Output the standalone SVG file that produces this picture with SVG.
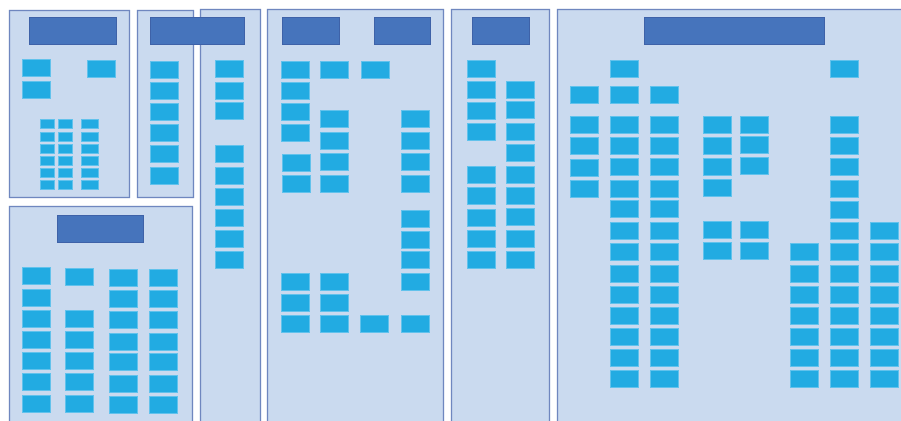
<svg xmlns="http://www.w3.org/2000/svg" xmlns:xlink="http://www.w3.org/1999/xlink" width="901" height="421" viewBox="0 0 901 421">
<style>
.panel{fill:#CADAEF;stroke:#6F87BF;stroke-width:1.3}
.hdr{fill:#4674BC;stroke:#3E62A8;stroke-width:1}
.b{fill:#22ABE2;stroke:#62C2EC;stroke-width:1}
</style>
<defs>
<rect id="bx" class="b" width="28" height="17"/>
<rect id="tn" class="b" width="14" height="9"/>
<rect id="tw" class="b" width="17" height="9"/>
</defs>
<rect width="901" height="421" fill="#FFFFFF"/>
<g id="panelA">
<rect class="panel" x="9.5" y="10.5" width="120" height="187"/>
<rect class="hdr" x="29.5" y="17.5" width="87" height="27"/>
<use href="#bx" x="22.5" y="59.5"/><use href="#bx" x="22.5" y="81.5"/><use href="#bx" x="87.5" y="60.5"/>
<use href="#tn" x="40.5" y="119.5"/><use href="#tn" x="58.5" y="119.5"/><use href="#tw" x="81.5" y="119.5"/>
<use href="#tn" x="40.5" y="132.5"/><use href="#tn" x="58.5" y="132.5"/><use href="#tw" x="81.5" y="132.5"/>
<use href="#tn" x="40.5" y="144.5"/><use href="#tn" x="58.5" y="144.5"/><use href="#tw" x="81.5" y="144.5"/>
<use href="#tn" x="40.5" y="156.5"/><use href="#tn" x="58.5" y="156.5"/><use href="#tw" x="81.5" y="156.5"/>
<use href="#tn" x="40.5" y="168.5"/><use href="#tn" x="58.5" y="168.5"/><use href="#tw" x="81.5" y="168.5"/>
<use href="#tn" x="40.5" y="180.5"/><use href="#tn" x="58.5" y="180.5"/><use href="#tw" x="81.5" y="180.5"/>
</g>
<g id="panelC">
<rect class="panel" x="200.5" y="9.5" width="60" height="420"/>
<use href="#bx" x="215.5" y="60.5"/><use href="#bx" x="215.5" y="82.5"/><use href="#bx" x="215.5" y="102.5"/>
<use href="#bx" x="215.5" y="145.5"/><use href="#bx" x="215.5" y="167.5"/><use href="#bx" x="215.5" y="188.5"/>
<use href="#bx" x="215.5" y="209.5"/><use href="#bx" x="215.5" y="230.5"/><use href="#bx" x="215.5" y="251.5"/>
</g>
<g id="panelB">
<rect class="panel" x="137.5" y="10.5" width="56" height="187"/>
<use href="#bx" x="150.5" y="61.5"/><use href="#bx" x="150.5" y="82.5"/><use href="#bx" x="150.5" y="103.5"/>
<use href="#bx" x="150.5" y="124.5"/><use href="#bx" x="150.5" y="145.5"/><use href="#bx" x="150.5" y="167.5"/>
<rect class="hdr" x="150.5" y="17.5" width="94" height="27"/>
</g>
<g id="panelD">
<rect class="panel" x="9.5" y="206.5" width="183" height="220"/>
<rect class="hdr" x="57.5" y="215.5" width="86" height="27"/>
<use href="#bx" x="22.5" y="267.5"/><use href="#bx" x="22.5" y="289.5"/><use href="#bx" x="22.5" y="310.5"/><use href="#bx" x="22.5" y="331.5"/><use href="#bx" x="22.5" y="352.5"/><use href="#bx" x="22.5" y="373.5"/><use href="#bx" x="22.5" y="395.5"/>
<use href="#bx" x="65.5" y="268.5"/><use href="#bx" x="65.5" y="310.5"/><use href="#bx" x="65.5" y="331.5"/><use href="#bx" x="65.5" y="352.5"/><use href="#bx" x="65.5" y="373.5"/><use href="#bx" x="65.5" y="395.5"/>
<use href="#bx" x="109.5" y="269.5"/><use href="#bx" x="109.5" y="290.5"/><use href="#bx" x="109.5" y="311.5"/><use href="#bx" x="109.5" y="333.5"/><use href="#bx" x="109.5" y="353.5"/><use href="#bx" x="109.5" y="375.5"/><use href="#bx" x="109.5" y="396.5"/>
<use href="#bx" x="149.5" y="269.5"/><use href="#bx" x="149.5" y="290.5"/><use href="#bx" x="149.5" y="311.5"/><use href="#bx" x="149.5" y="333.5"/><use href="#bx" x="149.5" y="353.5"/><use href="#bx" x="149.5" y="375.5"/><use href="#bx" x="149.5" y="396.5"/>
</g>
<g id="panelE">
<rect class="panel" x="267.5" y="9.5" width="176" height="420"/>
<rect class="hdr" x="282.5" y="17.5" width="57" height="27"/>
<rect class="hdr" x="374.5" y="17.5" width="56" height="27"/>
<use href="#bx" x="281.5" y="61.5"/><use href="#bx" x="281.5" y="82.5"/><use href="#bx" x="281.5" y="103.5"/><use href="#bx" x="281.5" y="124.5"/>
<use href="#bx" x="282.5" y="154.5"/><use href="#bx" x="282.5" y="175.5"/>
<use href="#bx" x="281.5" y="273.5"/><use href="#bx" x="281.5" y="294.5"/><use href="#bx" x="281.5" y="315.5"/>
<use href="#bx" x="320.5" y="61.5"/><use href="#bx" x="320.5" y="110.5"/><use href="#bx" x="320.5" y="132.5"/><use href="#bx" x="320.5" y="153.5"/><use href="#bx" x="320.5" y="175.5"/>
<use href="#bx" x="320.5" y="273.5"/><use href="#bx" x="320.5" y="294.5"/><use href="#bx" x="320.5" y="315.5"/>
<use href="#bx" x="361.5" y="61.5"/><use href="#bx" x="360.5" y="315.5"/>
<use href="#bx" x="401.5" y="110.5"/><use href="#bx" x="401.5" y="132.5"/><use href="#bx" x="401.5" y="153.5"/><use href="#bx" x="401.5" y="175.5"/>
<use href="#bx" x="401.5" y="210.5"/><use href="#bx" x="401.5" y="231.5"/><use href="#bx" x="401.5" y="251.5"/><use href="#bx" x="401.5" y="273.5"/><use href="#bx" x="401.5" y="315.5"/>
</g>
<g id="panelF">
<rect class="panel" x="451.5" y="9.5" width="98" height="420"/>
<rect class="hdr" x="472.5" y="17.5" width="57" height="27"/>
<use href="#bx" x="467.5" y="60.5"/><use href="#bx" x="467.5" y="81.5"/><use href="#bx" x="467.5" y="102.5"/><use href="#bx" x="467.5" y="123.5"/>
<use href="#bx" x="467.5" y="166.5"/><use href="#bx" x="467.5" y="187.5"/><use href="#bx" x="467.5" y="209.5"/><use href="#bx" x="467.5" y="230.5"/><use href="#bx" x="467.5" y="251.5"/>
<use href="#bx" x="506.5" y="81.5"/><use href="#bx" x="506.5" y="101.5"/><use href="#bx" x="506.5" y="123.5"/><use href="#bx" x="506.5" y="144.5"/><use href="#bx" x="506.5" y="166.5"/>
<use href="#bx" x="506.5" y="187.5"/><use href="#bx" x="506.5" y="208.5"/><use href="#bx" x="506.5" y="230.5"/><use href="#bx" x="506.5" y="251.5"/>
</g>
<g id="panelG">
<rect class="panel" x="557.5" y="9.5" width="350" height="420"/>
<rect class="hdr" x="644.5" y="17.5" width="180" height="27"/>
<use href="#bx" x="570.5" y="86.5"/><use href="#bx" x="570.5" y="116.5"/><use href="#bx" x="570.5" y="137.5"/><use href="#bx" x="570.5" y="159.5"/><use href="#bx" x="570.5" y="180.5"/>
<use href="#bx" x="610.5" y="60.5"/><use href="#bx" x="610.5" y="86.5"/><use href="#bx" x="610.5" y="116.5"/><use href="#bx" x="610.5" y="137.5"/><use href="#bx" x="610.5" y="158.5"/><use href="#bx" x="610.5" y="180.5"/><use href="#bx" x="610.5" y="200.5"/><use href="#bx" x="610.5" y="222.5"/><use href="#bx" x="610.5" y="243.5"/><use href="#bx" x="610.5" y="265.5"/><use href="#bx" x="610.5" y="286.5"/><use href="#bx" x="610.5" y="307.5"/><use href="#bx" x="610.5" y="328.5"/><use href="#bx" x="610.5" y="349.5"/><use href="#bx" x="610.5" y="370.5"/>
<use href="#bx" x="650.5" y="86.5"/><use href="#bx" x="650.5" y="116.5"/><use href="#bx" x="650.5" y="137.5"/><use href="#bx" x="650.5" y="158.5"/><use href="#bx" x="650.5" y="180.5"/><use href="#bx" x="650.5" y="200.5"/><use href="#bx" x="650.5" y="222.5"/><use href="#bx" x="650.5" y="243.5"/><use href="#bx" x="650.5" y="265.5"/><use href="#bx" x="650.5" y="286.5"/><use href="#bx" x="650.5" y="307.5"/><use href="#bx" x="650.5" y="328.5"/><use href="#bx" x="650.5" y="349.5"/><use href="#bx" x="650.5" y="370.5"/>
<use href="#bx" x="703.5" y="116.5"/><use href="#bx" x="703.5" y="137.5"/><use href="#bx" x="703.5" y="158.5"/><use href="#bx" x="703.5" y="179.5"/><use href="#bx" x="703.5" y="221.5"/><use href="#bx" x="703.5" y="242.5"/>
<use href="#bx" x="740.5" y="116.5"/><use href="#bx" x="740.5" y="136.5"/><use href="#bx" x="740.5" y="157.5"/><use href="#bx" x="740.5" y="221.5"/><use href="#bx" x="740.5" y="242.5"/>
<use href="#bx" x="790.5" y="243.5"/><use href="#bx" x="790.5" y="265.5"/><use href="#bx" x="790.5" y="286.5"/><use href="#bx" x="790.5" y="307.5"/><use href="#bx" x="790.5" y="328.5"/><use href="#bx" x="790.5" y="349.5"/><use href="#bx" x="790.5" y="370.5"/>
<use href="#bx" x="830.5" y="60.5"/><use href="#bx" x="830.5" y="116.5"/><use href="#bx" x="830.5" y="137.5"/><use href="#bx" x="830.5" y="158.5"/><use href="#bx" x="830.5" y="180.5"/><use href="#bx" x="830.5" y="201.5"/><use href="#bx" x="830.5" y="222.5"/><use href="#bx" x="830.5" y="243.5"/><use href="#bx" x="830.5" y="265.5"/><use href="#bx" x="830.5" y="286.5"/><use href="#bx" x="830.5" y="307.5"/><use href="#bx" x="830.5" y="328.5"/><use href="#bx" x="830.5" y="349.5"/><use href="#bx" x="830.5" y="370.5"/>
<use href="#bx" x="870.5" y="222.5"/><use href="#bx" x="870.5" y="243.5"/><use href="#bx" x="870.5" y="265.5"/><use href="#bx" x="870.5" y="286.5"/><use href="#bx" x="870.5" y="307.5"/><use href="#bx" x="870.5" y="328.5"/><use href="#bx" x="870.5" y="349.5"/><use href="#bx" x="870.5" y="370.5"/>
</g>
<g id="connectors"/>
</svg>
